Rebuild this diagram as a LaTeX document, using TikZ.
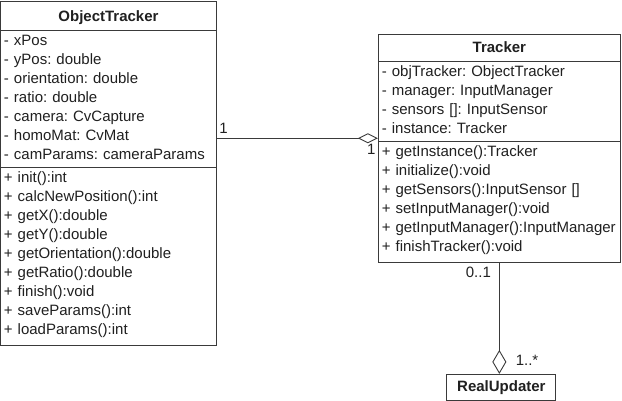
\documentclass[tikz,border=0pt]{standalone}
\usepackage{fontspec}
\setmainfont{Liberation Sans}
\usepackage{xcolor}
\usepackage{tikz}
\usetikzlibrary{positioning, arrows.meta, shapes.multipart}
\definecolor{umlline}{HTML}{3A3A3A}
\definecolor{umltext}{HTML}{202020}
\frenchspacing
\newcommand{\umlhead}[2]{\hbox to\hsize{\hfil\bfseries\rule[-7pt]{0pt}{#2}#1\hfil}}

\begin{document}
\begin{tikzpicture}[
  x=1pt, y=-1pt,
  umlclass/.style={
    rectangle split, rectangle split parts=3, draw=umlline, line width=0.9pt,
    fill=white, align=left, inner xsep=3.5pt, inner ysep=1.5pt,
    text=umltext, font=\fontsize{15}{19}\selectfont
  },
  umlname/.style={
    rectangle, draw=umlline, line width=0.9pt, fill=white,
    minimum width=109pt, minimum height=26pt, inner sep=2pt,
    text=umltext, font=\fontsize{15}{19}\selectfont\bfseries
  },
  mult/.style={text=umltext, font=\fontsize{15}{19}\selectfont, inner sep=2pt},
  aggr/.style={-{Diamond[open, length=20pt, width=10pt]}, draw=umlline, line width=0.9pt},
  aggrv/.style={-{Diamond[open, length=24pt, width=14pt]}, draw=umlline, line width=0.9pt},
]
\useasboundingbox (0,0) rectangle (622,400);

% --- Classes ---
\node[umlclass, text width=209pt, anchor=north west] (objtracker) at (0,1)
  {\umlhead{ObjectTracker}{25pt}
   \nodepart{second}\strut - xPos\\
   - yPos: double\\
   - orientation: double\\
   - ratio: double\\
   - camera: CvCapture\\
   - homoMat: CvMat\\
   - camParams: cameraParams\strut
   \nodepart{third}\strut + init():int\\
   + calcNewPosition():int\\
   + getX():double\\
   + getY():double\\
   + getOrientation():double\\
   + getRatio():double\\
   + finish():void\\
   + saveParams():int\\
   + loadParams():int\rule[-9pt]{0pt}{9pt}};

\node[umlclass, text width=235pt, right=161pt of objtracker.north east,
      anchor=north west, yshift=-33pt] (tracker)
  {\umlhead{Tracker}{23pt}
   \nodepart{second}\strut - objTracker: ObjectTracker\\
   - manager: InputManager\\
   - sensors []: InputSensor\\
   - instance: Tracker\strut
   \nodepart{third}\strut + getInstance():Tracker\\
   + initialize():void\\
   + getSensors():InputSensor []\\
   + setInputManager():void\\
   + getInputManager():InputManager\\
   + finishTracker():void\rule[-9pt]{0pt}{9pt}};

\node[umlname, below=111pt of tracker.south, xshift=2pt] (updater) {RealUpdater};

% --- Associations ---
\coordinate (aggjoin) at ([yshift=3pt]tracker.two split west);
\draw[aggr] (objtracker.east |- aggjoin) -- (aggjoin)
  node[mult, above right, pos=0, yshift=2pt] {1}
  node[mult, below left, pos=1, yshift=-3pt] {1};

\draw[aggrv] (tracker.south) -- (tracker.south |- updater.north)
  node[mult, below left, pos=0, xshift=-6pt, yshift=-2pt] {0..1}
  node[mult, above right, pos=1, xshift=14pt, yshift=6pt] {1..*};

\end{tikzpicture}
\end{document}
